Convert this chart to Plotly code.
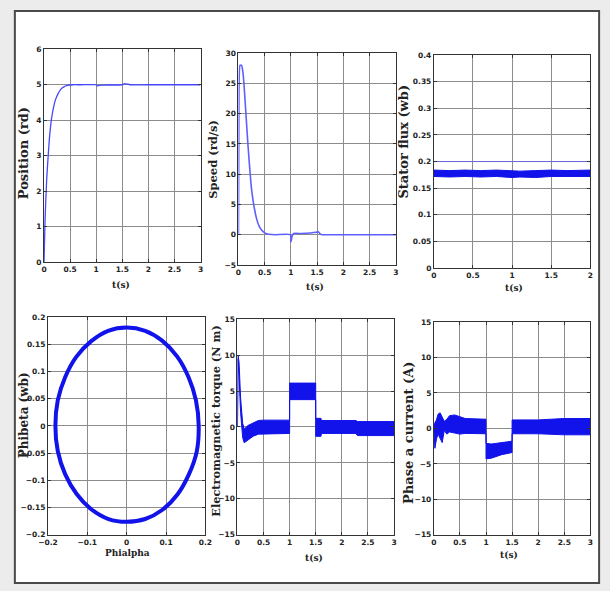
import plotly.graph_objects as go

W, H = 610, 591

# ---- Position response (rd) ----
t_pos = [0, 0.02, 0.05, 0.08, 0.11, 0.14, 0.18, 0.22, 0.27, 0.32, 0.38, 0.45, 0.55,
         0.7, 1.0, 1.02, 1.1, 1.5, 1.55, 1.65, 2.0, 3.0]
position = [0, 1.2, 2.3, 3.0, 3.6, 4.0, 4.35, 4.58, 4.75, 4.87, 4.94, 4.98, 5.0,
            5.0, 5.0, 4.97, 4.99, 5.0, 5.03, 5.0, 5.0, 5.0]

# ---- Speed response (rd/s) ----
t_speed = [0, 0.01, 0.03, 0.06, 0.09, 0.12, 0.15, 0.18, 0.21, 0.25, 0.3, 0.35, 0.4,
           0.47, 0.55, 0.7, 0.99, 1.0, 1.02, 1.05, 1.2, 1.48, 1.52, 1.56, 1.6, 2.0, 3.0]
speed = [0, 24, 28, 28, 26.5, 23, 19, 15, 11.5, 7.5, 4.5, 2.5, 1.3,
         0.5, 0.1, 0, 0, -1.2, -0.3, 0.2, 0.2, 0.4, 0.5, 0.1, 0, 0, 0]

# ---- Stator flux magnitude (wb): ripple envelope and reference ----
t_flux = [0, 0.2, 0.4, 0.6, 0.8, 1.0, 1.1, 1.3, 1.5, 1.7, 1.9, 2.0]
flux_upper = [0.184, 0.183, 0.184, 0.183, 0.184, 0.183, 0.182, 0.183, 0.184, 0.183, 0.184, 0.184]
flux_lower = [0.172, 0.171, 0.172, 0.171, 0.172, 0.170, 0.171, 0.170, 0.172, 0.171, 0.172, 0.172]
t_flux_ref = [0, 2.0]
flux_ref = [0.2, 0.2]

# ---- Stator flux locus (alpha / beta components, wb) ----
phi_alpha = [0.183, 0.176, 0.157, 0.128, 0.090, 0.047, 0.0, -0.047, -0.090, -0.128,
             -0.156, -0.175, -0.181, -0.175, -0.156, -0.127, -0.090, -0.046, 0.0,
             0.047, 0.091, 0.129, 0.158, 0.178, 0.183]
phi_beta = [0.0, 0.047, 0.090, 0.128, 0.157, 0.175, 0.181, 0.175, 0.156, 0.127,
            0.090, 0.047, 0.0, -0.046, -0.089, -0.125, -0.153, -0.171, -0.176,
            -0.171, -0.154, -0.126, -0.089, -0.047, 0.0]

# ---- Electromagnetic torque (N m): ripple envelope ----
t_torque = [0, 0.01, 0.03, 0.06, 0.1, 0.13, 0.2, 0.3, 0.4, 0.5, 0.999, 1.0, 1.499, 1.5,
            1.6, 1.61, 2.27, 2.3, 3.0]
torque_upper = [0, 10, 9, 4, 0.5, -0.3, 0.2, 0.6, 0.9, 0.95, 0.95, 6.1, 6.1, 1.2,
                1.2, 0.9, 0.9, 0.75, 0.75]
torque_lower = [0, 9.5, 7, 2, -1.5, -2.2, -1.8, -1.3, -1.0, -0.9, -0.9, 3.8, 3.8, -1.3,
                -1.3, -0.9, -0.9, -1.2, -1.2]

# ---- Phase a current (A): ripple envelope ----
t_current = [0, 0.02, 0.05, 0.08, 0.12, 0.16, 0.2, 0.25, 0.3, 0.4, 0.5, 0.6, 0.999,
             1.0, 1.1, 1.3, 1.499, 1.5, 2.0, 2.5, 3.0]
current_upper = [0, 0.8, 1.2, 2.0, 2.2, 1.5, 1.0, 1.3, 1.8, 1.9, 1.7, 1.4, 1.3,
                 -2.1, -2.2, -2.0, -1.8, 1.2, 1.2, 1.4, 1.4]
current_lower = [0, -2.8, -1.5, -0.8, -1.5, -2.0, -0.3, -0.8, -0.5, -0.6, -0.8, -0.7, -0.75,
                 -4.3, -4.2, -3.7, -3.4, -0.75, -0.75, -0.9, -0.9]

# Tick values
ticks_t3 = [0, 0.5, 1, 1.5, 2, 2.5, 3]
ticks_t2 = [0, 0.5, 1, 1.5, 2]
ticks_pos = [0, 1, 2, 3, 4, 5, 6]
ticks_speed = [-5, 0, 5, 10, 15, 20, 25, 30]
ticks_flux = [0, 0.05, 0.1, 0.15, 0.2, 0.25, 0.3, 0.35, 0.4]
ticks_phi = [-0.2, -0.15, -0.1, -0.05, 0, 0.05, 0.1, 0.15, 0.2]
ticks_phi_x = [-0.2, -0.1, 0, 0.1, 0.2]
ticks_15 = [-15, -10, -5, 0, 5, 10, 15]

BLUE = "rgb(18,18,235)"
THIN_BLUE = "rgb(70,70,255)"

def px(x):
    return x / W

def py(y):
    return 1 - y / H

panels = [
    dict(box=(35, 46, 196, 262), xr=[0, 3], xt=ticks_t3, yr=[0, 6], yt=ticks_pos,
         ytitle="Position (rd)", ytc=(14, 152), tsize=13, xtitle="t(s)", xtc=(114, 285)),
    dict(box=(235, 50, 397, 265), xr=[0, 3], xt=ticks_t3, yr=[-5, 30], yt=ticks_speed,
         ytitle="Speed (rd/s)", ytc=(208, 158), tsize=11.5, xtitle="t(s)", xtc=(314, 287)),
    dict(box=(436, 52, 597, 268), xr=[0, 2], xt=ticks_t2, yr=[0, 0.4], yt=ticks_flux,
         ytitle="Stator flux (wb)", ytc=(405, 140), tsize=13, xtitle="t(s)", xtc=(518, 288)),
    dict(box=(39, 318, 201, 539), xr=[-0.2, 0.2], xt=ticks_phi_x, yr=[-0.2, 0.2], yt=ticks_phi,
         ytitle="Phibeta (wb)", ytc=(14, 418), tsize=12, xtitle="Phialpha", xtc=(121, 557)),
    dict(box=(234, 320, 395, 539), xr=[0, 3], xt=ticks_t3, yr=[-15, 15], yt=ticks_15,
         ytitle="Electromagnetic torque (N m)", ytc=(211, 424), tsize=11.3, xtitle="t(s)",
         xtc=(313, 563)),
    dict(box=(436, 323, 597, 539), xr=[0, 3], xt=ticks_t3, yr=[-15, 15], yt=ticks_15,
         ytitle="Phase a current (A)", ytc=(410, 436), tsize=13, xtitle="t(s)", xtc=(513, 560)),
]

fig = go.Figure()

def band(t, upper, lower, k):
    xs = list(t) + list(t)[::-1]
    ys = list(upper) + list(lower)[::-1]
    fig.add_trace(go.Scatter(x=xs, y=ys, mode="lines", fill="toself", fillcolor=BLUE,
                             line=dict(color=BLUE, width=1), xaxis=f"x{k}", yaxis=f"y{k}",
                             showlegend=False, hoverinfo="skip"))

# 1: position
fig.add_trace(go.Scatter(x=t_pos, y=position, mode="lines", line=dict(color=THIN_BLUE, width=1.3,
                         shape="spline", smoothing=0.6), xaxis="x", yaxis="y", showlegend=False))
# 2: speed
fig.add_trace(go.Scatter(x=t_speed, y=speed, mode="lines", line=dict(color="rgb(95,95,255)", width=1.6,
                         shape="spline", smoothing=0.5), xaxis="x2", yaxis="y2", showlegend=False))
# 3: stator flux
fig.add_trace(go.Scatter(x=t_flux_ref, y=flux_ref, mode="lines", line=dict(color="rgba(90,90,255,0.7)", width=1),
                         xaxis="x3", yaxis="y3", showlegend=False))
band(t_flux, flux_upper, flux_lower, 3)
# 4: flux locus
fig.add_trace(go.Scatter(x=phi_alpha, y=phi_beta, mode="lines",
                         line=dict(color=BLUE, width=4, shape="spline", smoothing=1.0),
                         xaxis="x4", yaxis="y4", showlegend=False))
# 5: torque
band(t_torque, torque_upper, torque_lower, 5)
# 6: phase current
band(t_current, current_upper, current_lower, 6)

tick_font = dict(family="DejaVu Sans", size=7.5, color="#222", weight="bold")
title_font = dict(family="DejaVu Serif", size=11.5, color="#222", weight="bold")

layout = dict(
    width=W, height=H, margin=dict(l=0, r=0, t=0, b=0),
    paper_bgcolor="#ececec", plot_bgcolor="white", showlegend=False,
    shapes=[dict(type="rect", xref="paper", yref="paper", x0=px(5), x1=px(606),
                 y0=py(588), y1=py(7), line=dict(color="#4a4a4a", width=2),
                 fillcolor="white", layer="below")],
    annotations=[],
)

for i, p in enumerate(panels, start=1):
    x0, y0, x1, y1 = p["box"]
    sfx = "" if i == 1 else str(i)
    common = dict(showgrid=True, gridcolor="#8c8c8c", gridwidth=1.3, showline=True,
                  linecolor="#333", linewidth=1, mirror="ticks", ticks="inside",
                  ticklen=3, tickcolor="#333", tickfont=tick_font, zeroline=False,
                  fixedrange=True)
    layout[f"xaxis{sfx}"] = dict(common, domain=[px(x0), px(x1)], range=p["xr"],
                                 tickvals=p["xt"], anchor=f"y{sfx}")
    layout[f"yaxis{sfx}"] = dict(common, domain=[py(y1), py(y0)], range=p["yr"],
                                 tickvals=p["yt"], anchor=f"x{sfx}")
    cx, cy = p["ytc"]
    layout["annotations"].append(dict(text=p["ytitle"], x=px(cx), y=py(cy), xref="paper",
                                      yref="paper", textangle=-90, showarrow=False,
                                      xanchor="center", yanchor="middle",
                                      font=dict(title_font, size=p["tsize"])))
    tx, ty = p["xtc"]
    layout["annotations"].append(dict(text=p["xtitle"], x=px(tx), y=py(ty), xref="paper",
                                      yref="paper", showarrow=False, xanchor="center",
                                      yanchor="middle", font=dict(title_font, size=9)))

fig.update_layout(**layout)
fig.write_html("out.html")
